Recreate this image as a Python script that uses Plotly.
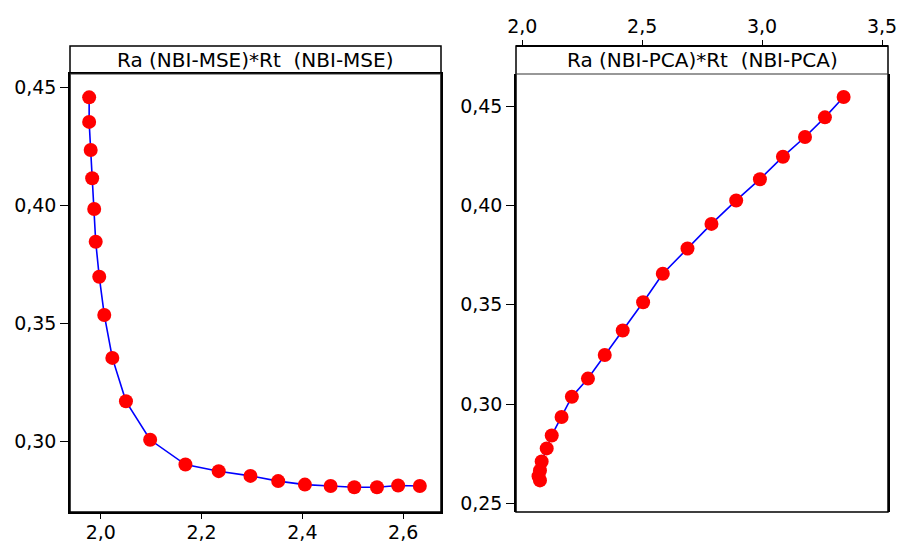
import plotly.graph_objects as go

# Left panel: Ra (NBI-MSE) vs Rt (NBI-MSE)
mse_x = [1.977, 1.977, 1.980, 1.983, 1.987, 1.990, 1.997, 2.007, 2.023, 2.050, 2.098,
         2.168, 2.234, 2.297, 2.352, 2.405, 2.456, 2.503, 2.548, 2.590, 2.633]
mse_y = [0.4459, 0.4355, 0.4236, 0.4116, 0.3986, 0.3847, 0.3699, 0.3537, 0.3355, 0.3171, 0.3008,
         0.2903, 0.2875, 0.2855, 0.2833, 0.2818, 0.2812, 0.2807, 0.2807, 0.2814, 0.2812]

# Right panel: Ra (NBI-PCA) vs Rt (NBI-PCA)
pca_x = [3.340, 3.262, 3.179, 3.087, 2.991, 2.892, 2.789, 2.689, 2.586, 2.504, 2.419,
         2.344, 2.274, 2.207, 2.164, 2.123, 2.102, 2.081, 2.074, 2.068, 2.074]
pca_y = [0.4545, 0.4443, 0.4344, 0.4245, 0.4132, 0.4025, 0.3907, 0.3783, 0.3656, 0.3513, 0.3371,
         0.3248, 0.3129, 0.3038, 0.2936, 0.2843, 0.2778, 0.2712, 0.2667, 0.2638, 0.2617]

titles = ["Ra (NBI-MSE)*Rt\u00a0\u00a0(NBI-MSE)", "Ra (NBI-PCA)*Rt\u00a0\u00a0(NBI-PCA)"]

left_x_ticks = [2.0, 2.2, 2.4, 2.6]
left_y_ticks = [0.30, 0.35, 0.40, 0.45]
right_x_ticks = [2.0, 2.5, 3.0, 3.5]
right_y_ticks = [0.25, 0.30, 0.35, 0.40, 0.45]

W, H = 898, 543
FONT = "DejaVu Sans"

def px(x):
    return x / W

def py(y):
    return 1 - y / H

fig = go.Figure()

line_style = dict(color="#0000FF", width=1.6)
marker_style = dict(color="#FF0000", size=14)

fig.add_trace(go.Scatter(x=mse_x, y=mse_y, mode="lines+markers", line=line_style,
                         marker=marker_style, xaxis="x", yaxis="y", showlegend=False))
fig.add_trace(go.Scatter(x=pca_x, y=pca_y, mode="lines+markers", line=line_style,
                         marker=marker_style, xaxis="x2", yaxis="y2", showlegend=False))

# panel geometry in pixels
L1, R1 = 70, 441
L2, R2 = 516, 888
TOP, STRIP, BOT = 46, 74, 512

axis_common = dict(showgrid=False, zeroline=False, showline=True, linecolor="black",
                   linewidth=1.5, ticks="outside", tickwidth=1.3,
                   tickcolor="black", automargin=False,
                   tickfont=dict(family=FONT, size=19, color="black"))

fig.update_layout(
    width=W, height=H,
    margin=dict(l=0, r=0, t=0, b=0),
    paper_bgcolor="white", plot_bgcolor="white",
    separators=",.",
    xaxis=dict(domain=[px(L1), px(R1)], range=[1.939, 2.675], anchor="y",
               tickvals=left_x_ticks, tickformat=".1f", mirror=True, ticklen=5,
               ticklabelstandoff=-3, **axis_common),
    yaxis=dict(domain=[py(BOT), py(STRIP)], range=[0.2702, 0.4558], anchor="x",
               tickvals=left_y_ticks, tickformat=".2f", mirror=True, ticklen=8,
               **axis_common),
    xaxis2=dict(domain=[px(L2), px(R2)], range=[1.974, 3.525], anchor="free",
                position=py(TOP), side="top", ticklen=5,
                tickvals=right_x_ticks, tickformat=".1f", **axis_common),
    yaxis2=dict(domain=[py(BOT), py(STRIP)], range=[0.2458, 0.4661], anchor="x2",
                tickvals=right_y_ticks, tickformat=".2f", mirror=True, ticklen=8,
                **axis_common),
)

shapes = []
annotations = []
for (l, r), t in zip([(L1, R1), (L2, R2)], titles):
    # full panel frame
    shapes.append(dict(type="rect", xref="paper", yref="paper",
                       x0=px(l), x1=px(r), y0=py(BOT), y1=py(TOP),
                       line=dict(color="black", width=1.5), fillcolor="rgba(0,0,0,0)"))
    # title strip separator
    shapes.append(dict(type="line", xref="paper", yref="paper",
                       x0=px(l), x1=px(r), y0=py(STRIP), y1=py(STRIP),
                       line=dict(color="#333333", width=1.2)))
    annotations.append(dict(text=t, xref="paper", yref="paper",
                            x=px((l + r) / 2), y=py((TOP + STRIP) / 2),
                            xanchor="center", yanchor="middle", showarrow=False,
                            font=dict(family=FONT, size=20, color="black")))

fig.update_layout(shapes=shapes, annotations=annotations)

fig.write_html("out.html")
